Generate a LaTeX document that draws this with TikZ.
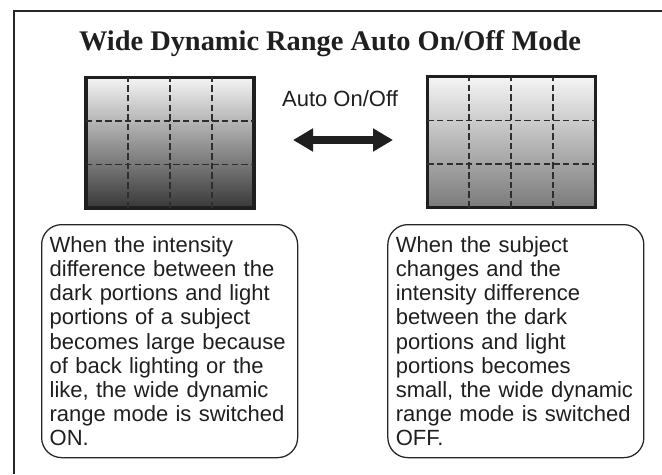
\documentclass[tikz,border=0pt]{standalone}
\usepackage{fontspec}
\usetikzlibrary{arrows.meta}
\newfontfamily\titlefont{Liberation Serif}
\newfontfamily\bodyfont{Liberation Sans}
\tikzstyle{frame}=[draw=black!85, line width=1.1pt]
\tikzstyle{screen}=[draw=black!88, line width=2.2pt]
\tikzstyle{gridline}=[draw=black!82, line width=1.25pt, dash pattern=on 4.6pt off 2.3pt]
\tikzstyle{note}=[draw=black!85, line width=0.9pt, rounded corners=0.5cm, anchor=north west,
  minimum width=6.4cm, minimum height=5.825cm, text width=6.0cm, inner xsep=0.2cm,
  align=left, text=black!88, font=\bodyfont\fontsize{15.65}{17.1}\selectfont]
\tikzstyle{toggle}=[black!88, line width=5pt,
  {Triangle[length=0.5cm,width=0.55cm]}-{Triangle[length=0.5cm,width=0.55cm]}]

\begin{document}
\begin{tikzpicture}
		\useasboundingbox (0,0) rectangle (16.55,11.85);
		%\draw[help lines] (0,0) grid (16,11);
		\draw[frame] (16.55,11.575) -- (0.35,11.575) -- (0.35,0);%frame
		
		\node[anchor=base, text=black!88, font=\titlefont\bfseries\fontsize{20.2}{24}\selectfont] (title) at (8.25,10.6) {Wide Dynamic Range Auto On/Off Mode};
		
		\draw[screen, top color=black!4, middle color=black!23, bottom color=black!78] (2.15,6.65) rectangle (6.35,9.92);%screen ON
		\draw[gridline] (3.2,6.65) -- (3.2,9.92) (4.25,6.65) -- (4.25,9.92) (5.3,6.65) -- (5.3,9.92);
		\draw[gridline] (2.15,7.74) -- (6.35,7.74) (2.15,8.83) -- (6.35,8.83);
		
		\draw[screen, top color=black!4, middle color=black!18, bottom color=black!52] (10.68,6.66) rectangle (14.88,9.93);%screen OFF
		\draw[gridline] (11.73,6.66) -- (11.73,9.93) (12.78,6.66) -- (12.78,9.93) (13.83,6.66) -- (13.83,9.93);
		\draw[gridline] (10.68,7.75) -- (14.88,7.75) (10.68,8.84) -- (14.88,8.84);
		
		\node[anchor=base, text=black!88, font=\bodyfont\fontsize{15.65}{17.1}\selectfont] (autoLbl) at (8.5,9.2) {Auto On/Off};
		\coordinate (arrL) at (7.325,8.35);
		\coordinate (arrR) at (9.825,8.35);
		\draw[toggle] (arrL) -- (arrR);
		
		\node[note] (noteOn) at (1.025,6.25) {When the intensity\\
			difference between the\\
			dark portions and light\\
			portions of a subject\\
			becomes large because\\
			of back lighting or the\\
			like, the wide dynamic\\
			range mode is switched\\
			ON.};
		\node[note] (noteOff) at (9.68,6.25) {When the subject\\
			changes and the\\
			intensity difference\\
			between the dark\\
			portions and light\\
			portions becomes\\
			small, the wide dynamic\\
			range mode is switched\\
			OFF.};
\end{tikzpicture}
\end{document}
